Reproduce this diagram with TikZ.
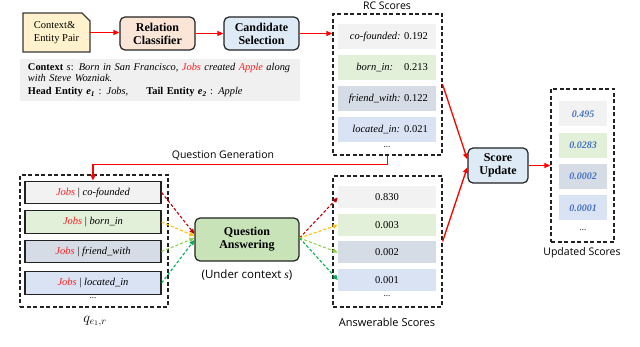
\documentclass[tikz,border=0pt]{standalone}
\usepackage{fontspec}
\setmainfont{Liberation Serif}
\newfontfamily\labfont{Open Sans}
\usetikzlibrary{arrows.meta,calc}
\definecolor{rowA}{HTML}{F2F2F2}
\definecolor{rowB}{HTML}{E2F0D9}
\definecolor{rowC}{HTML}{D6DCE5}
\definecolor{rowD}{HTML}{DAE3F3}
\definecolor{docfill}{HTML}{FFF2CC}
\definecolor{relfill}{HTML}{FBE5D6}
\definecolor{bluefill}{HTML}{DEEBF7}
\definecolor{qafill}{HTML}{C9E3B9}
\definecolor{ctxgray}{HTML}{F0F0F0}
\definecolor{jobsred}{HTML}{FF2020}
\definecolor{dred}{HTML}{C00000}
\definecolor{dorange}{HTML}{FFC000}
\definecolor{dlgreen}{HTML}{92D050}
\definecolor{dgreen}{HTML}{00B050}
\definecolor{numblue}{HTML}{4472C4}
\definecolor{frame}{HTML}{222222}
\tikzset{
  procbox/.style={draw=frame,line width=1.2pt,rounded corners=5pt,align=center,
    font=\fontsize{12}{13}\selectfont\bfseries,inner sep=1pt},
  dashbox/.style={draw=frame,line width=1.2pt,dash pattern=on 4pt off 2.5pt,inner sep=0pt},
  scorerow/.style={inner sep=0pt,minimum width=98pt,minimum height=25pt,
    font=\fontsize{10.5}{12}\selectfont},
  updrow/.style={inner sep=0pt,minimum width=48pt,minimum height=25pt,
    font=\fontsize{10}{12}\selectfont\bfseries\itshape\color{numblue}},
  qrow/.style={draw=frame,line width=1.2pt,inner sep=0pt,minimum width=136pt,minimum height=22.5pt,
    font=\fontsize{10.5}{12}\selectfont},
  redarrow/.style={draw=red,line width=1.3pt,-{Triangle[length=6pt,width=5pt]}},
  dasharrow/.style={line width=1.1pt,dash pattern=on 3pt off 2pt,-{Triangle[length=5pt,width=4.5pt]}},
  lab/.style={font=\labfont\fontsize{10.5}{12}\selectfont,inner sep=0pt},
  dots/.style={inner sep=0pt,font=\fontsize{9}{10}\selectfont}
}
\newcommand{\jobs}{\textcolor{jobsred}{\textit{Jobs}}}
\begin{document}
\begin{tikzpicture}[x=1pt,y=-1pt]
\useasboundingbox (0,0) rectangle (640,347);
% context document
\draw[fill=docfill,draw=frame!90,line width=1.3pt] (23,13) -- (82,13) -- (90,21) -- (90,52) -- (23,52) -- cycle;
\node[inner sep=0pt,minimum width=67pt,minimum height=39pt,align=left,
  font=\fontsize{10.5}{12.5}\selectfont] (ctx) at (56.5,32.5) {Context\&\\Entity Pair};
\node[procbox,fill=relfill,minimum width=75pt,minimum height=33pt] (rel) at (157.5,33.5) {Relation\\Classifier};
\node[procbox,fill=bluefill,minimum width=75pt,minimum height=33pt] (cand) at (261.5,33.5) {Candidate\\Selection};
% context text
\node[fill=ctxgray,minimum width=280pt,minimum height=42pt,text width=274pt,inner sep=3pt,align=left,
  font=\fontsize{10.4}{11.8}\selectfont] (ctxtext) at (160,80)
  {\hspace*{5pt}\textbf{Context} \textit{s}: \textit{Born in San Francisco, \textcolor{jobsred}{Jobs} created \textcolor{jobsred}{Apple} along}\\
   \hspace*{5pt}\textit{with Steve Wozniak.}\\[1pt]
   \hspace*{5pt}\textbf{Head Entity} \textbf{\textit{e\textsubscript{1}}} : \textit{Jobs,}\hspace{18pt}\textbf{Tail Entity} \textbf{\textit{e\textsubscript{2}}} : \textit{Apple}};
% RC scores
\node[dashbox,minimum width=109pt,minimum height=141pt] (rcbox) at (387.5,84.5) {};
\node[lab] (rclab) at (387,6) {RC Scores};
\node[scorerow,fill=rowA] (rc1) at (387,36.5) {};
\node[scorerow,fill=rowB] (rc2) at (387,67.5) {};
\node[scorerow,fill=rowC] (rc3) at (387,98.5) {};
\node[scorerow,fill=rowD] (rc4) at (387,129.5) {};
\node[scorerow,anchor=east,minimum width=0pt] (rct1) at (428,36.5) {\textit{co-founded:} 0.192};
\node[scorerow,anchor=east,minimum width=0pt] (rct2) at (428,67.5) {\textit{born\_in:}\hspace{11pt}0.213};
\node[scorerow,anchor=east,minimum width=0pt] (rct3) at (428,98.5) {\textit{friend\_with:} 0.122};
\node[scorerow,anchor=east,minimum width=0pt] (rct4) at (428,129.5) {\textit{located\_in:}\hspace{4pt}0.021};
\node[dots] (rcd) at (387,147) {...};
% Score update
\node[procbox,fill=bluefill,minimum width=60pt,minimum height=35pt] (score) at (498,165.5) {Score\\Update};
% Updated scores
\node[dashbox,minimum width=63pt,minimum height=153pt] (updbox) at (582.5,165.5) {};
\node[updrow,fill=rowA] (u1) at (583,114) {0.495};
\node[updrow,fill=rowB] (u2) at (583,145.5) {0.0283};
\node[updrow,fill=rowC] (u3) at (583,176.5) {0.0002};
\node[updrow,fill=rowD] (u4) at (583,208) {0.0001};
\node[dots] (ud) at (583,230) {...};
\node[lab] (updlab) at (582,253) {Updated Scores};
% question box
\node[dashbox,minimum width=148pt,minimum height=132pt] (qbox) at (94,241) {};
\node[qrow,fill=rowA] (q1) at (93,192.5) {\jobs\ | \textit{co-founded}};
\node[qrow,fill=rowB] (q2) at (93,222) {\jobs\ | \textit{born\_in}};
\node[qrow,fill=rowC] (q3) at (93,251.5) {\jobs\ | \textit{friend\_with}};
\node[qrow,fill=rowD] (q4) at (93,283) {\jobs\ | \textit{located\_in}};
\node[dots] (qd) at (93,298) {...};
\node[inner sep=0pt,font=\fontsize{14}{16}\selectfont] (qlab) at (95,321) {$q_{e_1,r}$};
% QA
\node[procbox,fill=qafill,minimum width=104pt,minimum height=43pt] (qa) at (247,239.5) {Question\\Answering};
\node[lab,font=\labfont\fontsize{11.5}{13}\selectfont] (qalab) at (247,275) {(Under context {\fontspec{Liberation Serif}\itshape s})};
% Answerable
\node[dashbox,minimum width=109pt,minimum height=131pt] (ansbox) at (387.5,241.5) {};
\node[scorerow,fill=rowA,minimum height=22pt] (a1) at (387,197.5) {0.830};
\node[scorerow,fill=rowB,minimum height=22pt] (a2) at (387,225) {0.003};
\node[scorerow,fill=rowC,minimum height=22pt] (a3) at (387,252.5) {0.002};
\node[scorerow,fill=rowD,minimum height=22pt] (a4) at (387,280) {0.001};
\node[dots] (ad) at (387,296) {...};
\node[lab,font=\labfont\fontsize{11}{13}\selectfont] (anslab) at (387,322) {Answerable Scores};
% red arrows
\draw[redarrow] (ctx.east) -- (rel.west |- ctx.east);
\draw[redarrow] (rel.east) -- (cand.west);
\draw[redarrow] (cand.east) -- (cand.east -| rcbox.west);
\draw[redarrow] (rcbox.east) -- ([yshift=6pt]score.west);
\draw[redarrow] (ansbox.east) -- ([yshift=-1.5pt]score.west);
\draw[redarrow] (score.east) -- (updbox.west);
\draw[redarrow] (rcbox.south) -- ++(0,9) -| (q1.north);
\node[lab] (qglab) at (223,156) {Question Generation};
% dashed arrows
\draw[dasharrow,dred] (q1.east) -- ([yshift=5.5pt]qa.west);
\draw[dasharrow,dorange] (q2.east) -- ([yshift=3.5pt]qa.west);
\draw[dasharrow,dlgreen] (q3.east) -- ([yshift=1.5pt]qa.west);
\draw[dasharrow,dgreen] (q4.east) -- ([yshift=-0.5pt]qa.west);
\draw[dasharrow,dred] ([yshift=1.5pt]qa.east) -- (a1.west);
\draw[dasharrow,dorange] ([yshift=1.5pt]qa.east) -- (a2.west);
\draw[dasharrow,dlgreen] ([yshift=1.5pt]qa.east) -- (a3.west);
\draw[dasharrow,dgreen] ([yshift=1.5pt]qa.east) -- (a4.west);
\end{tikzpicture}
\end{document}
